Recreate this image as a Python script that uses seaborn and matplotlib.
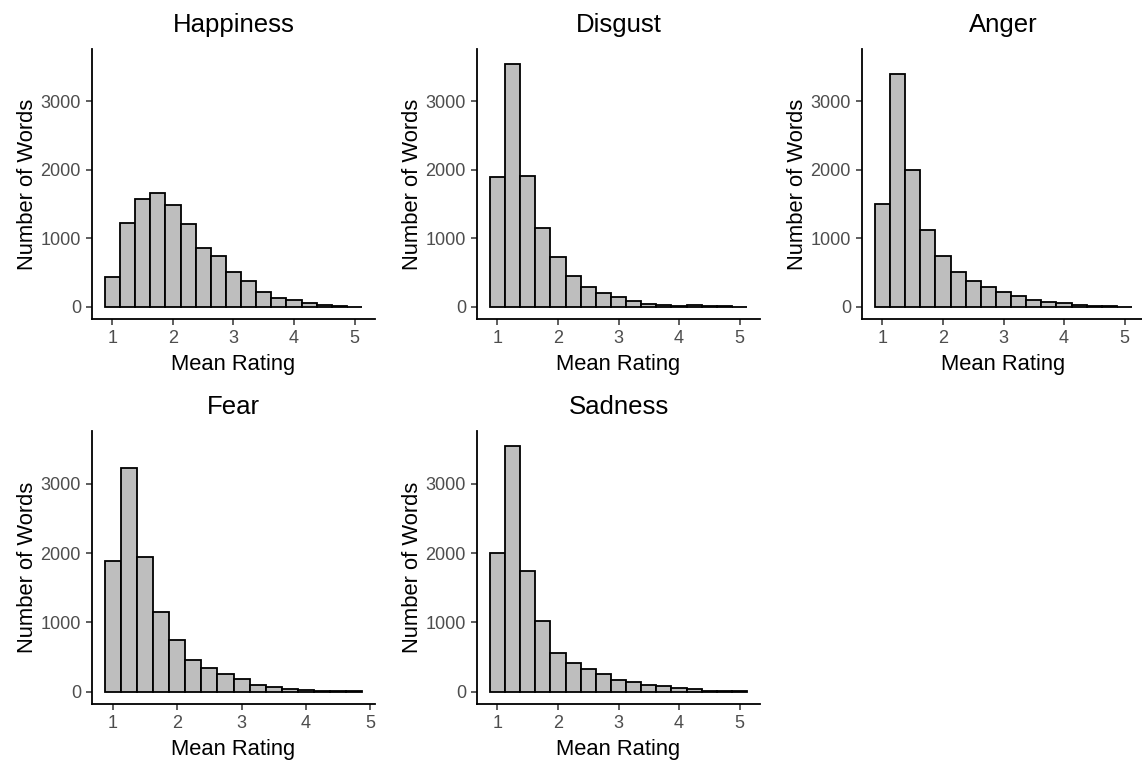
import matplotlib
matplotlib.use("Agg")
import matplotlib.pyplot as plt
import seaborn as sns
import pandas as pd

sns.set_style("white")
plt.rcParams['font.family'] = ['Liberation Sans', 'DejaVu Sans']

emotions = ["Happiness", "Disgust", "Anger", "Fear", "Sadness"]
rating_bins = [1.0, 1.25, 1.5, 1.75, 2.0, 2.25, 2.5, 2.75, 3.0,
               3.25, 3.5, 3.75, 4.0, 4.25, 4.5, 4.75, 5.0]

happiness = [441, 1220, 1569, 1667, 1490, 1211, 858, 740, 510,
             373, 216, 132, 93, 49, 20, 5, 2]
disgust = [1902, 3541, 1907, 1156, 732, 454, 293, 200, 137,
           83, 44, 24, 10, 20, 8, 5, 2]
anger = [1498, 3395, 2000, 1122, 737, 512, 380, 283, 210,
         156, 93, 68, 49, 20, 10, 8, 2]
fear = [1884, 3237, 1947, 1150, 744, 459, 348, 256, 179,
        97, 63, 39, 29, 14, 8, 3]
sadness = [2010, 3546, 1744, 1024, 556, 411, 333, 251, 174,
           135, 97, 82, 48, 34, 14, 5, 3]

series = [happiness, disgust, anger, fear, sadness]

W, H = 1142, 762
fig = plt.figure(figsize=(W / 100, H / 100), dpi=100)

# panel boxes in pixels: (left, top, width, height)
boxes = [(92, 49, 283, 270), (477, 49, 283, 270), (862, 49, 283, 270),
         (92, 431, 283, 273), (477, 431, 283, 273)]

binw = 0.25
for name, counts, (l, t, w, h) in zip(emotions, series, boxes):
    ax = fig.add_axes([l / W, 1 - (t + h) / H, w / W, h / H])
    xs = rating_bins[:len(counts)]
    df = pd.DataFrame({"rating": xs, "n": counts})
    lo = xs[0] - binw / 2
    hi = xs[-1] + binw / 2
    sns.histplot(data=df, x="rating", weights="n", binwidth=binw,
                 binrange=(lo, hi), color="#BEBEBE", alpha=1,
                 edgecolor="black", linewidth=1.3, ax=ax)
    pad = 0.05 * (hi - lo)
    ax.set_xlim(lo - pad, hi + pad)
    ax.set_ylim(-178, 3765)
    ax.set_xticks([1, 2, 3, 4, 5])
    ax.set_yticks([0, 1000, 2000, 3000])
    ax.set_xlabel("Mean Rating", fontsize=15.8, color="black", labelpad=5)
    ax.set_ylabel("Number of Words", fontsize=15.8, color="black", labelpad=2)
    ax.set_title(name, fontsize=18.5, color="black", pad=12)
    for s in ["top", "right"]:
        ax.spines[s].set_visible(False)
    for s in ["left", "bottom"]:
        ax.spines[s].set_color("black")
        ax.spines[s].set_linewidth(1.3)
    ax.tick_params(axis="both", which="major", direction="out", length=4,
                   width=1.1, color="#333333", labelsize=13,
                   labelcolor="#4D4D4D", left=True, bottom=True, pad=4)

fig.savefig("out.png", dpi=100, facecolor="white")
